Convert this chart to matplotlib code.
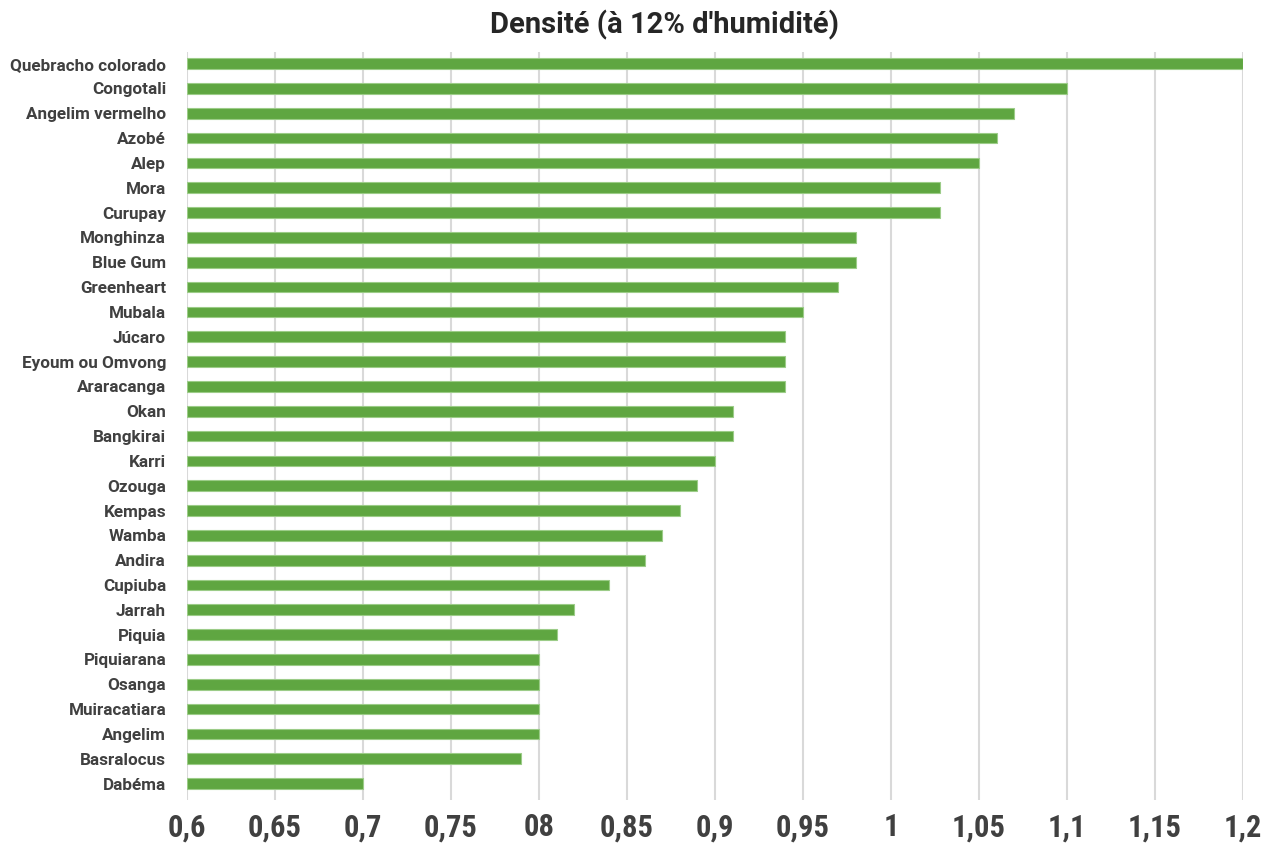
import matplotlib.pyplot as plt
from matplotlib import font_manager

# wood species, top to bottom as in the chart
species = ["Quebracho colorado", "Congotali", "Angelim vermelho", "Azobé", "Alep",
           "Mora", "Curupay", "Monghinza", "Blue Gum", "Greenheart", "Mubala",
           "Júcaro", "Eyoum ou Omvong", "Araracanga", "Okan", "Bangkirai", "Karri",
           "Ozouga", "Kempas", "Wamba", "Andira", "Cupiuba", "Jarrah", "Piquia",
           "Piquiarana", "Osanga", "Muiracatiara", "Angelim", "Basralocus", "Dabéma"]
density = [1.2, 1.1, 1.07, 1.06, 1.05,
           1.028, 1.028, 0.98, 0.98, 0.97, 0.95,
           0.94, 0.94, 0.94, 0.91, 0.91, 0.9,
           0.89, 0.88, 0.87, 0.86, 0.84, 0.82, 0.81,
           0.8, 0.8, 0.8, 0.8, 0.79, 0.7]

x_ticks = [0.6, 0.65, 0.7, 0.75, 0.8, 0.85, 0.9, 0.95, 1.0, 1.05, 1.1, 1.15, 1.2]
x_labels = ["0,6", "0,65", "0,7", "0,75", "08", "0,85", "0,9", "0,95", "1",
            "1,05", "1,1", "1,15", "1,2"]

# pick a narrow face if one is installed, else plain Roboto
names = set(f.name for f in font_manager.fontManager.ttflist)
narrow = "Roboto"
for cand in ["Roboto Condensed", "Liberation Sans Narrow", "Open Sans Condensed",
             "DejaVu Sans Condensed"]:
    if cand in names:
        narrow = cand
        break
x_size = 22 if narrow != "Roboto" else 19

TEXT = "#404040"
GREEN = "#5fa641"

fig = plt.figure(figsize=(12.61, 8.43), dpi=100)
ax = fig.add_axes([187 / 1261, 1 - 800 / 843, 1056 / 1261, 748 / 843])

n = len(species)
ypos = [n - 1 - i for i in range(n)]
ax.barh(ypos, [d - 0.6 for d in density], left=0.6, height=0.43,
        color=GREEN, edgecolor="#9ccc88", linewidth=0.8, zorder=3)

ax.set_xlim(0.6, 1.2)
ax.set_ylim(-0.66, n - 1 + 0.47)
ax.set_xticks(x_ticks)
ax.set_xticklabels(x_labels, fontfamily=narrow, fontweight="bold",
                   fontsize=x_size, color=TEXT)
ax.set_yticks(ypos)
ax.set_yticklabels(species, fontfamily="Roboto", fontweight="bold",
                   fontsize=12.3, color=TEXT)
ax.tick_params(length=0, axis="both")
ax.tick_params(axis="x", pad=9)
ax.tick_params(axis="y", pad=15)

ax.grid(axis="x", color="#d9d9d9", linewidth=1.5, zorder=0)
for s in ax.spines.values():
    s.set_visible(False)

fig.suptitle("Densité (à 12% d'humidité)", x=665 / 1261, y=1 - 25 / 843, va="center",
             fontfamily="Roboto", fontweight="bold", fontsize=21, color="#262626")

fig.savefig("out.png", dpi=100)
